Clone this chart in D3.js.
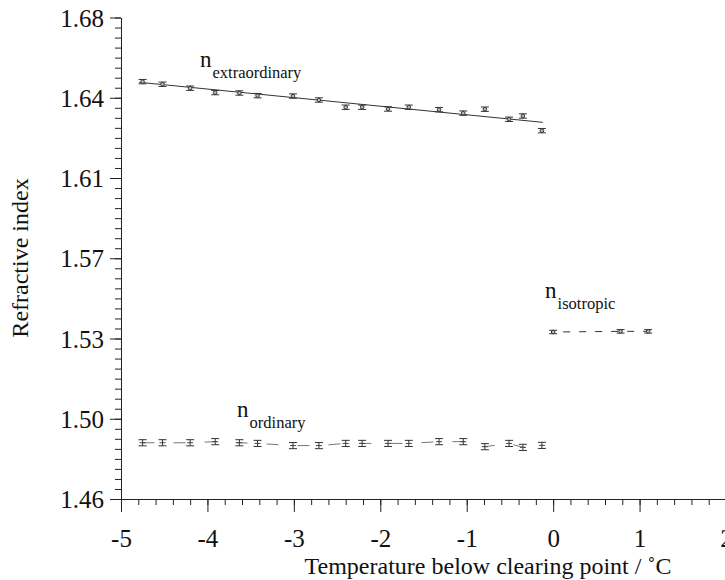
<!DOCTYPE html>
<html>
<head>
<meta charset="utf-8">
<script src="https://cdn.jsdelivr.net/npm/d3@7"></script>
<style>
  body { margin: 0; background: #fff; }
</style>
</head>
<body>
<div id="viz"></div>
<script>
// temperatures below clearing point (deg C) for the nematic phase
var temps = [-4.75, -4.52, -4.20, -3.91, -3.63, -3.42, -3.01, -2.71, -2.40,
             -2.21, -1.91, -1.67, -1.32, -1.04, -0.79, -0.51, -0.35, -0.13];
var nExtra = [1.6507, 1.6495, 1.6477, 1.6457, 1.6455, 1.6443, 1.6441, 1.6423, 1.6390,
              1.6390, 1.6382, 1.6390, 1.6379, 1.6363, 1.6381, 1.6335, 1.6350, 1.6283];
var errExtra = 0.0010;
var nOrd = [1.4857, 1.4857, 1.4857, 1.4862, 1.4857, 1.4854, 1.4844, 1.4844, 1.4854,
            1.4854, 1.4854, 1.4854, 1.4862, 1.4862, 1.4839, 1.4854, 1.4836, 1.4845];
var errOrd = 0.0014;
// isotropic phase
var tempsIso = [0.00, 0.78, 1.10];
var nIso = [1.5363, 1.5366, 1.5366];
var errIso = 0.0008;
// linear fit through n_e (end points)
var fitT = [-4.79, -0.12];
var fitN = [1.6504, 1.6321];

// axis ticks
var yTicks = d3.range(7).map(function (i) { return 1.46 + i * 0.22 / 6; });
var yMinor = d3.range(49).map(function (i) { return 1.46 + i * 0.22 / 48; });
var xTicks = [-5, -4, -3, -2, -1, 0, 1, 2];
var xMinor = d3.range(36).map(function (i) { return -5 + i * 0.2; });

// label anchors (data units)
var labels = [
    { main: "n", sub: "extraordinary", t: -4.086, v: 1.6575 },
    { main: "n", sub: "ordinary", t: -3.657, v: 1.4975 },
    { main: "n", sub: "isotropic", t: -0.093, v: 1.5518 }
];

var SERIF = "'Liberation Serif', 'Times New Roman', serif";

var W = 725, H = 580;
var svg = d3.select("#viz").append("svg")
    .attr("width", W).attr("height", H);

var x = d3.scaleLinear().domain([-5, 2]).range([121, 726]);
var y = d3.scaleLinear().domain([1.46, 1.68]).range([499, 17.5]);

var axisColor = "#222";

// minor ticks
svg.append("g")
    .attr("transform", "translate(0,499)")
    .call(d3.axisBottom(x).tickValues(xMinor).tickSize(6).tickFormat(""))
    .call(function (g) { g.select(".domain").remove(); })
    .selectAll("line").attr("stroke", axisColor);
svg.append("g")
    .attr("transform", "translate(121,0)")
    .call(d3.axisLeft(y).tickValues(yMinor).tickSize(6).tickFormat(""))
    .call(function (g) { g.select(".domain").remove(); })
    .selectAll("line").attr("stroke", axisColor);

// X axis
var gx = svg.append("g")
    .attr("transform", "translate(0,499)")
    .call(d3.axisBottom(x).tickValues(xTicks).tickSize(13).tickSizeOuter(0)
        .tickFormat(function (d) { return String(d); }));
gx.select(".domain").attr("stroke", axisColor);
gx.selectAll("line").attr("stroke", axisColor);
gx.selectAll("text")
    .attr("y", 48).attr("dy", null)
    .attr("fill", "#111")
    .style("font-size", "25px")
    .style("font-family", SERIF);

// Y axis
var gy = svg.append("g")
    .attr("transform", "translate(121,0)")
    .call(d3.axisLeft(y).tickValues(yTicks).tickSize(11).tickSizeOuter(0)
        .tickFormat(d3.format(".2f")));
gy.select(".domain").attr("stroke", axisColor);
gy.selectAll("line").attr("stroke", axisColor);
gy.selectAll("text")
    .attr("x", -17).attr("dy", "0.34em")
    .attr("fill", "#111")
    .style("font-size", "25px")
    .style("font-family", SERIF);

// axis titles
svg.append("text")
    .attr("x", 488).attr("y", 574)
    .attr("text-anchor", "middle")
    .attr("fill", "#111")
    .style("font-family", SERIF)
    .style("font-size", "24px")
    .text("Temperature below clearing point / ˚C");
svg.append("text")
    .attr("transform", "translate(28," + 258 + ") rotate(-90)")
    .attr("text-anchor", "middle")
    .attr("fill", "#111")
    .style("font-family", SERIF)
    .style("font-size", "24px")
    .text("Refractive index");

// lines
svg.append("path")
    .datum(d3.zip(fitT, fitN))
    .attr("fill", "none").attr("stroke", "#333").attr("stroke-width", 1)
    .attr("d", d3.line().x(function (d) { return x(d[0]); }).y(function (d) { return y(d[1]); }));

svg.append("path")
    .datum(d3.zip(temps, nOrd))
    .attr("fill", "none").attr("stroke", "#777").attr("stroke-width", 1)
    .attr("stroke-dasharray", "12,19")
    .attr("d", d3.line().x(function (d) { return x(d[0]); }).y(function (d) { return y(d[1]); }));

svg.append("path")
    .datum(d3.zip(tempsIso, nIso))
    .attr("fill", "none").attr("stroke", "#333").attr("stroke-width", 1)
    .attr("stroke-dasharray", "7,9")
    .attr("stroke-dashoffset", -10)
    .attr("d", d3.line().x(function (d) { return x(d[0]); }).y(function (d) { return y(d[1]); }));

// error bars
function errorBars(ts, ns, err, color) {
    var g = svg.append("g").attr("stroke", color).attr("stroke-width", 1);
    ts.forEach(function (t, i) {
        var cx = x(t), y0 = y(ns[i] - err), y1 = y(ns[i] + err);
        g.append("line").attr("x1", cx).attr("x2", cx).attr("y1", y0).attr("y2", y1);
        g.append("line").attr("x1", cx - 4).attr("x2", cx + 4).attr("y1", y0).attr("y2", y0);
        g.append("line").attr("x1", cx - 4).attr("x2", cx + 4).attr("y1", y1).attr("y2", y1);
    });
}
errorBars(temps, nExtra, errExtra, "#333");
errorBars(temps, nOrd, errOrd, "#333");
errorBars(tempsIso, nIso, errIso, "#333");

// markers
svg.append("g").selectAll("circle")
    .data(d3.zip(temps, nExtra).concat(d3.zip(tempsIso, nIso)))
    .enter().append("circle")
    .attr("cx", function (d) { return x(d[0]); })
    .attr("cy", function (d) { return y(d[1]); })
    .attr("r", 1.8)
    .attr("fill", "#bbb").attr("stroke", "#333").attr("stroke-width", 1);

svg.append("g").selectAll("line")
    .data(d3.zip(temps, nOrd))
    .enter().append("line")
    .attr("x1", function (d) { return x(d[0]) - 3; })
    .attr("x2", function (d) { return x(d[0]) + 3; })
    .attr("y1", function (d) { return y(d[1]); })
    .attr("y2", function (d) { return y(d[1]); })
    .attr("stroke", "#444");

// series labels
labels.forEach(function (l) {
    var t = svg.append("text")
        .attr("x", x(l.t)).attr("y", y(l.v))
        .attr("fill", "#111")
        .style("font-family", SERIF)
        .style("font-size", "23px");
    t.append("tspan").text(l.main);
    t.append("tspan").attr("dx", 1).attr("dy", 11)
        .style("font-size", "16.5px").text(l.sub);
});
</script>
</body>
</html>
